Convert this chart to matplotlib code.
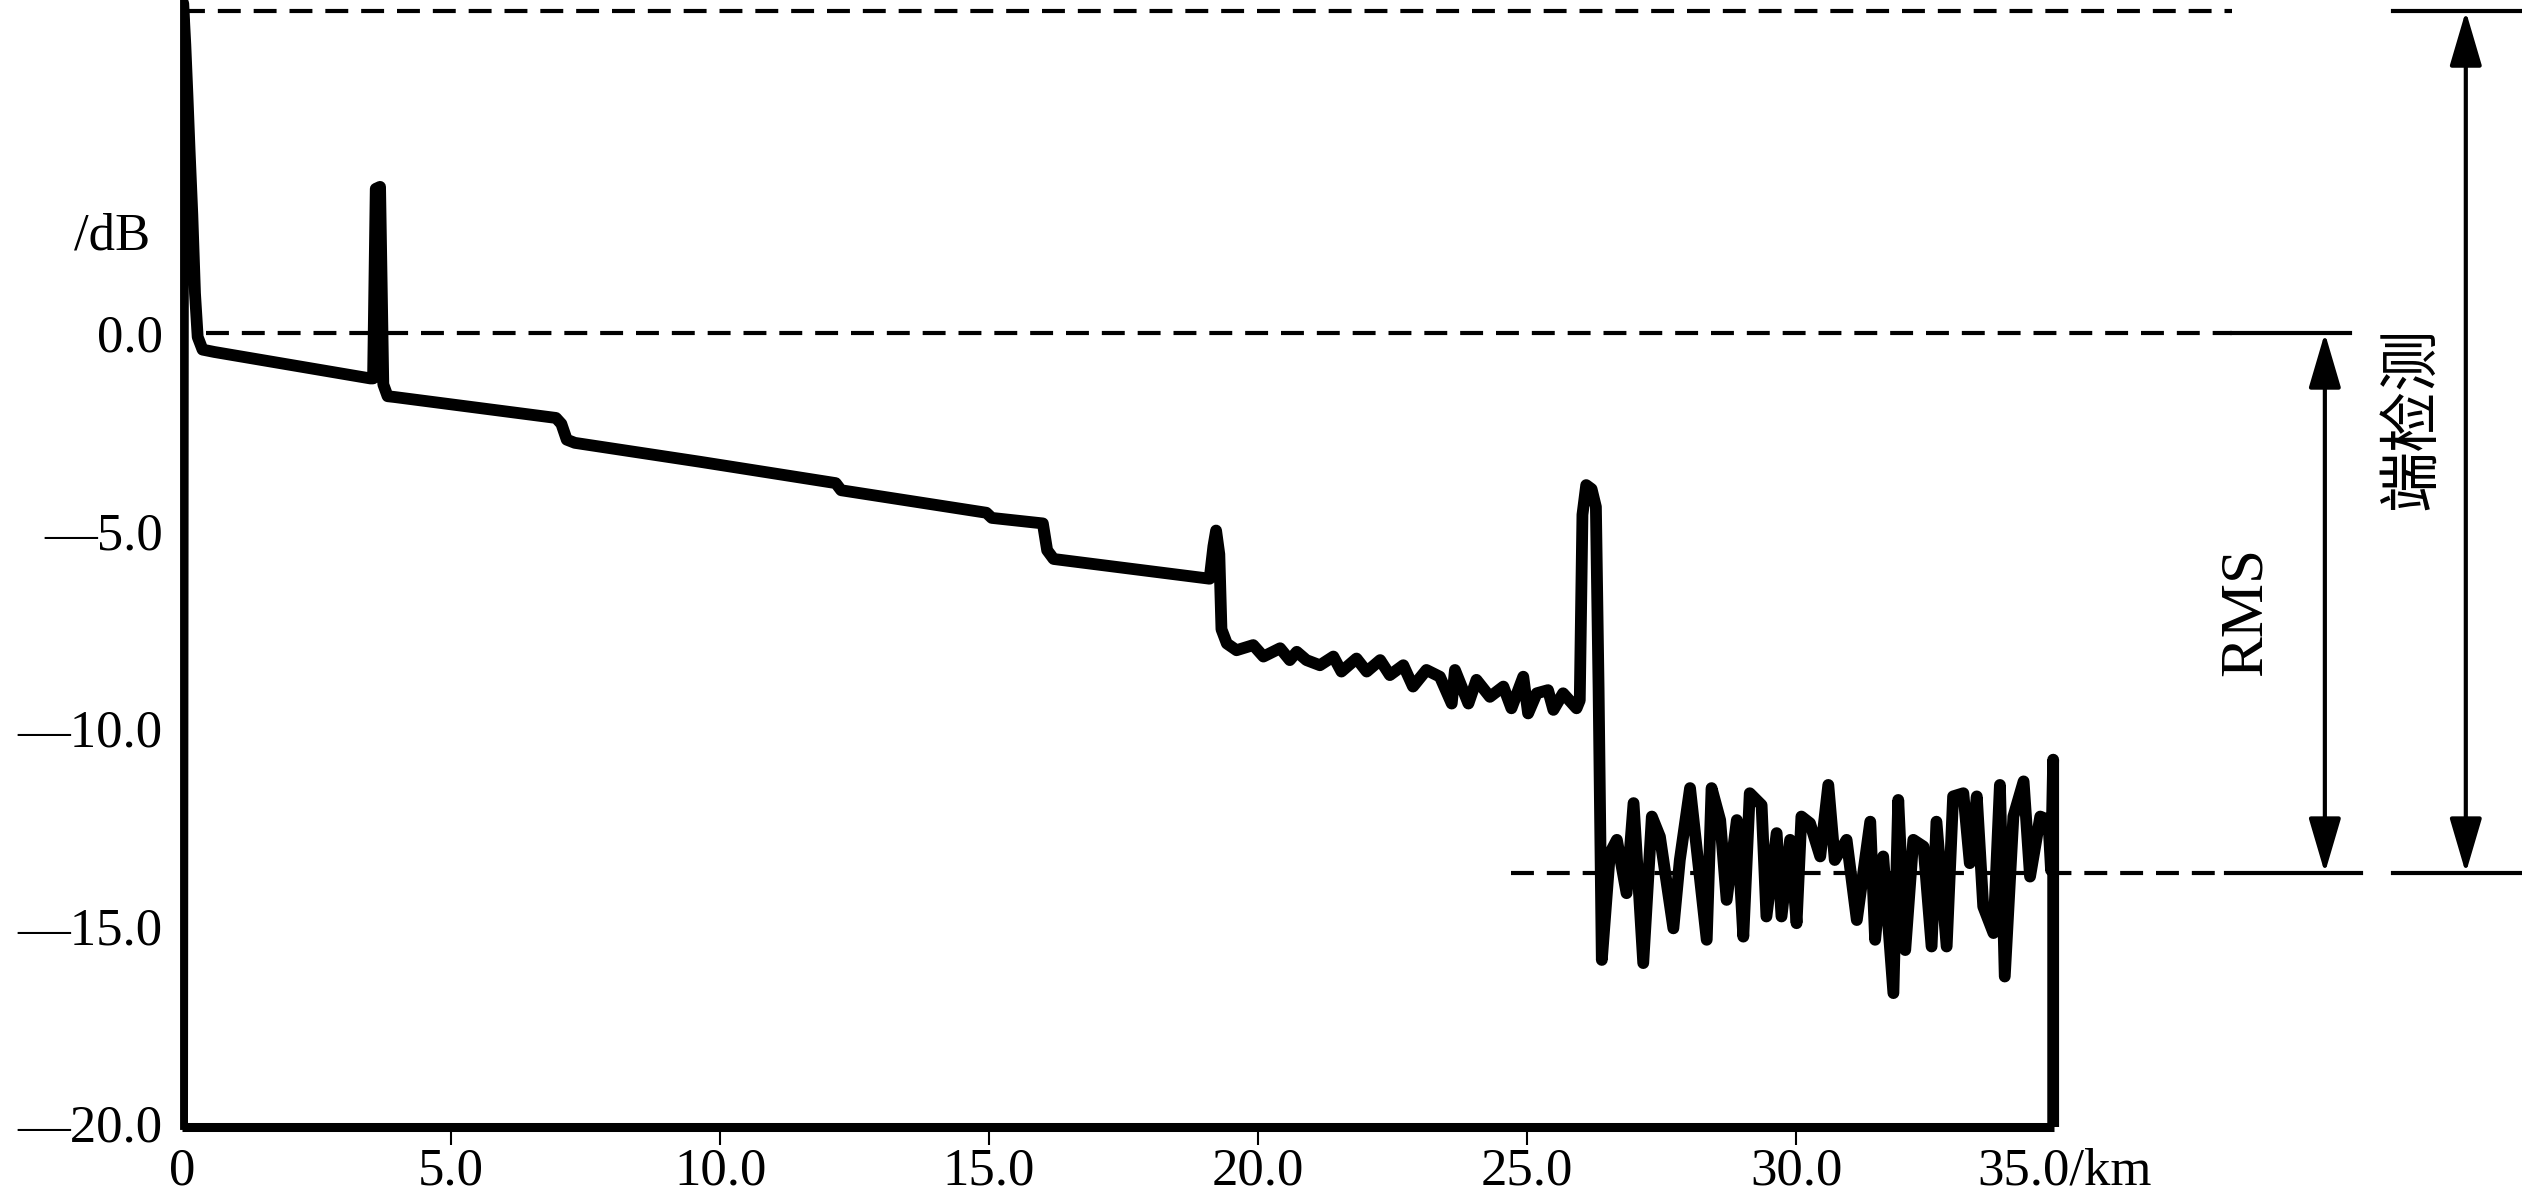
import numpy as np
import matplotlib
matplotlib.use("Agg")
import matplotlib.pyplot as plt
from matplotlib.patches import FancyArrowPatch

plt.rcParams['font.family'] = ['Liberation Serif', 'Noto Sans CJK SC', 'DejaVu Sans']

# OTDR trace: distance [km], level [dB]
trace_km = [0.0, 0.02, 0.06, 0.10, 0.14, 0.19, 0.24, 0.29, 0.38, 0.6,
            3.5, 3.55, 3.6, 3.68, 3.74, 3.82, 3.95,
            6.95, 7.05, 7.15, 7.3, 9.63, 12.15, 12.25, 14.95, 15.05, 16.0,
            16.08, 16.2, 19.1, 19.17, 19.22, 19.28, 19.32, 19.42]
trace_db = [-20.0, 8.35, 7.3, 6.0, 4.6, 3.0, 1.0, -0.1, -0.42, -0.48,
            -1.15, -1.15, 3.65, 3.7, -1.3, -1.6, -1.62,
            -2.15, -2.3, -2.7, -2.78, -3.26, -3.8, -3.98, -4.55, -4.68, -4.82,
            -5.5, -5.72, -6.22, -5.4, -5.0, -5.6, -7.5, -7.86]

# noisy section after the 19 km event
mid_km = [19.60, 19.91, 20.10, 20.41, 20.59, 20.72, 20.90, 21.15, 21.40, 21.55,
          21.83, 22.02, 22.27, 22.45, 22.70, 22.88, 23.13, 23.38, 23.60, 23.66,
          23.91, 24.06, 24.31, 24.56, 24.71, 24.93, 25.02, 25.18, 25.39, 25.49,
          25.67, 25.92]
mid_db = [-8.03, -7.90, -8.19, -7.98, -8.28, -8.07, -8.28, -8.41, -8.19, -8.57,
          -8.24, -8.57, -8.28, -8.66, -8.41, -8.95, -8.53, -8.70, -9.38, -8.53,
          -9.38, -8.78, -9.21, -8.95, -9.50, -8.70, -9.63, -9.12, -9.04, -9.54,
          -9.12, -9.50]

# reflection at the fibre end
end_km = [25.98, 26.03, 26.10, 26.20, 26.28, 26.33, 26.39]
end_db = [-9.30, -4.60, -3.85, -3.95, -4.40, -9.00, -15.87]

# noise floor
noise_km = [26.54, 26.67, 26.85, 26.98, 27.16, 27.32, 27.47, 27.72, 27.84, 28.03,
            28.15, 28.34, 28.43, 28.59, 28.71, 28.90, 29.02, 29.14, 29.36, 29.45,
            29.64, 29.73, 29.89, 30.01, 30.10, 30.26, 30.45, 30.60, 30.72, 30.94,
            31.13, 31.38, 31.47, 31.62, 31.81, 31.90, 32.03, 32.18, 32.37, 32.52,
            32.61, 32.80, 32.92, 33.11, 33.23, 33.36, 33.48, 33.67, 33.79, 33.88,
            34.04, 34.23, 34.35, 34.54, 34.69, 34.74, 34.78, 34.78]
noise_db = [-13.17, -12.83, -14.18, -11.90, -15.95, -12.24, -12.75, -15.07, -13.34, -11.52,
            -13.00, -15.36, -11.52, -12.33, -14.35, -12.33, -15.28, -11.65, -11.95, -14.77,
            -12.66, -14.77, -12.83, -14.94, -12.24, -12.41, -13.25, -11.44, -13.34, -12.83,
            -14.86, -12.37, -15.36, -13.25, -16.71, -11.82, -15.62, -12.83, -13.00, -15.53,
            -12.37, -15.53, -11.73, -11.65, -13.42, -11.73, -14.52, -15.19, -11.44, -16.29,
            -12.24, -11.35, -13.76, -12.24, -12.33, -13.60, -10.80, -20.10]

x_all = trace_km + mid_km + end_km + noise_km
y_all = trace_db + mid_db + end_db + noise_db

# reference levels [dB]
top_level = 8.15
zero_level = 0.0
rms_level = -13.67

xticks = [0, 5, 10, 15, 20, 25, 30, 35]
xtick_labels = ['0', '5.0', '10.0', '15.0', '20.0', '25.0', '30.0', '35.0/km']
yticks = [0, -5, -10, -15, -20]
ytick_labels = ['0.0', '\u20145.0', '\u201410.0', '\u201415.0', '\u201420.0']

fig = plt.figure(figsize=(25.22, 12), dpi=100)
ax = fig.add_axes([0.0722, 0.0608, 0.7466, 0.9392])
ax.set_xlim(0, 35)
ax.set_ylim(-20.1, 8.43)

ax.plot(x_all, y_all, color='black', lw=8.5, solid_joinstyle='round', zorder=3)

# dashed reference lines
dash = (5.5, 3.1)
ax.plot([0, 38.1], [top_level, top_level], color='black', lw=3, dashes=dash, clip_on=False)
ax.plot([0.45, 38.1], [zero_level, zero_level], color='black', lw=3, dashes=dash, clip_on=False)
ax.plot([24.7, 38.0], [rms_level, rms_level], color='black', lw=3, dashes=dash, clip_on=False)

# solid marker lines on the right
ax.plot([38.1, 40.3], [zero_level, zero_level], color='black', lw=3, clip_on=False)
ax.plot([38.0, 40.5], [rms_level, rms_level], color='black', lw=3, clip_on=False)
ax.plot([41.1, 43.6], [top_level, top_level], color='black', lw=3, clip_on=False)
ax.plot([41.1, 43.6], [rms_level, rms_level], color='black', lw=3, clip_on=False)

for xa, y0, y1 in [(39.83, zero_level, rms_level), (42.45, top_level, rms_level)]:
    arr = FancyArrowPatch((xa, y0), (xa, y1), arrowstyle='<|-|>,head_length=34,head_width=10',
                          mutation_scale=1, shrinkA=0, shrinkB=0, lw=3, color='black',
                          clip_on=False)
    ax.add_patch(arr)

ax.text(38.36, -7.04, 'RMS', rotation=90, ha='center', va='center', fontsize=44)
ax.text(41.45, -2.15, '端检测', rotation=90, ha='center', va='center', fontsize=44,
        family=['Noto Sans CJK SC', 'DejaVu Sans'])
ax.text(-0.6, 2.44, '/dB', ha='right', va='center', fontsize=38)

for s in ['top', 'right']:
    ax.spines[s].set_visible(False)
ax.spines['left'].set_linewidth(3.5)
ax.spines['bottom'].set_linewidth(6.5)
ax.spines['bottom'].set_bounds(0, 34.8)
ax.spines['bottom'].set_capstyle('butt')

ax.set_xticks(xticks)
ax.set_xticklabels(xtick_labels, fontsize=38)
ax.set_yticks(yticks)
ax.set_yticklabels(ytick_labels, fontsize=38)
ax.tick_params(axis='x', direction='out', length=13, width=1.5, pad=2)
ax.tick_params(axis='y', length=0, pad=14)
ticks = ax.xaxis.get_major_ticks()
ticks[0].tick1line.set_visible(False)
ticks[-1].tick1line.set_visible(False)

fig.savefig('out.png', dpi=100)
